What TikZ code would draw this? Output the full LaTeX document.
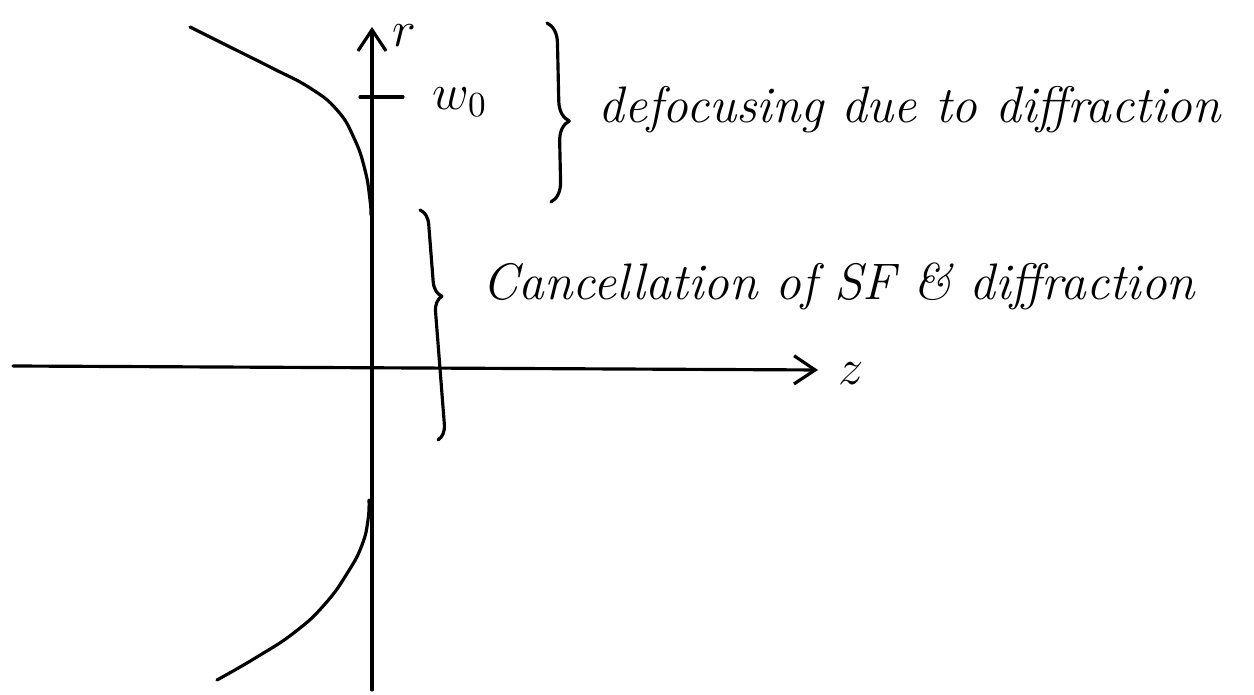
\documentclass[tikz,border=0pt]{standalone}
\usetikzlibrary{arrows.meta,decorations.pathreplacing}
\tikzset{
  hand/.style={black, line width=0.9pt, line cap=round, line join=round},
  axis/.style={hand, -{Straight Barb[length=6pt,width=8pt]}},
  curlybrace/.style 2 args={hand, decorate,
    decoration={brace, amplitude=#1, aspect=#2}},
  lbl/.style={inner sep=0pt, font=\fontsize{14.6}{17}\selectfont\itshape},
}
\begin{document}
\begin{tikzpicture}[x=0.01cm, y=-0.01cm]
  \useasboundingbox (0,0) rectangle (1254,695);
  % axes
  \coordinate (rbot) at (372,690);
  \coordinate (rtop) at (372,27);
  \coordinate (zleft) at (13,366);
  \coordinate (zright) at (818,370);
  \draw[axis] (rbot) -- (rtop);
  \draw[axis] (zleft) -- (zright);
  \node[lbl, anchor=west] (rlab) at (392,36) {$r$};
  \node[lbl, anchor=west] (zlab) at (838,374) {$z$};
  % beam waist tick
  \coordinate (tickl) at (360,97);
  \coordinate (tickr) at (403,97);
  \draw[hand] (tickl) -- (tickr);
  \node[lbl, anchor=west] (wlab) at (432,102) {$w_0$};
  % beam edge
  \draw[hand] plot[smooth, tension=0.8]
    coordinates {(190,27) (232,48) (272,68) (310,88) (337,110)
                 (354,138) (365,170) (370,200) (371,215)};
  \draw[hand] plot[smooth, tension=0.8]
    coordinates {(217,680) (257,657) (295,632) (325,604) (348,572)
                 (362,545) (368,520) (369,500)};
  % braces
  \draw[curlybrace={5.7pt}{0.55}] (547,23) -- (551,202);
  \node[lbl, anchor=base west] (defoc) at (598,123)
    {defocusing due to diffraction};
  \draw[curlybrace={4.3pt}{0.38}] (420,210) -- (438,440);
  \node[lbl, anchor=base west] (cancel) at (482,300)
    {Cancellation of SF \& diffraction};
\end{tikzpicture}
\end{document}
